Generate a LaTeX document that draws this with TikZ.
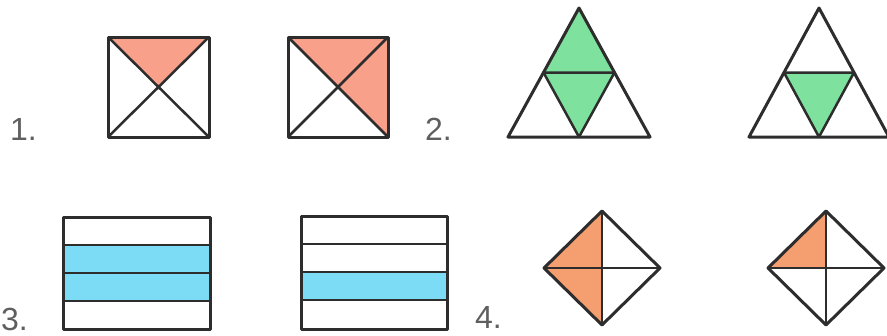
\documentclass[tikz,border=0pt]{standalone}
\usepackage{fontspec}
\setmainfont{Liberation Sans}
\definecolor{salmon}{RGB}{249,160,138}
\definecolor{mint}{RGB}{126,226,158}
\definecolor{sky}{RGB}{125,220,245}
\definecolor{apricot}{RGB}{245,158,112}
\definecolor{linec}{RGB}{45,45,45}
\definecolor{labc}{RGB}{95,95,95}
\begin{document}
\begin{tikzpicture}[x=1pt,y=-1pt,line join=round,
  shp/.style={draw=linec,line width=3pt},
  thin/.style={draw=linec,line width=2.5pt},
  lbl/.style={text=labc,font=\fontsize{32}{32}\selectfont,anchor=base west,inner sep=0pt}]
\useasboundingbox (0,0) rectangle (887,335);
% labels
\node[lbl] (l1) at (10,140) {1.};
\node[lbl] (l2) at (425,140) {2.};
\node[lbl] (l3) at (1,330) {3.};
\node[lbl] (l4) at (475,328) {4.};
% squares
\fill[salmon] (108,37) -- (209,37) -- (158.5,87) -- cycle;
\draw[thin] (108,37) -- (209,137) (209,37) -- (108,137);
\draw[shp] (108,37) rectangle (209,137);
\fill[salmon] (288,37) -- (388,37) -- (388,137) -- (338,87) -- cycle;
\draw[thin] (288,37) -- (388,137) (388,37) -- (288,137);
\draw[shp] (288,37) rectangle (388,137);
% triangles
\fill[mint] (579,8) -- (614.5,72.5) -- (579,137) -- (543.5,72.5) -- cycle;
\draw[thin] (543.5,72.5) -- (614.5,72.5) -- (579,137) -- cycle;
\draw[shp] (579,8) -- (650,137) -- (508,137) -- cycle;
\fill[mint] (784,72.5) -- (854,72.5) -- (819,137) -- cycle;
\draw[thin] (784,72.5) -- (854,72.5) -- (819,137) -- cycle;
\draw[shp] (819,8) -- (889,137) -- (749,137) -- cycle;
% rectangles
\fill[sky] (63,245) rectangle (210,301);
\draw[thin] (63,245) -- (210,245) (63,273) -- (210,273) (63,301) -- (210,301);
\draw[shp] (63,217) rectangle (210,329);
\fill[sky] (301,272) rectangle (447,300);
\draw[thin] (301,244) -- (447,244) (301,272) -- (447,272) (301,300) -- (447,300);
\draw[shp] (301,216) rectangle (447,329);
% diamonds
\fill[apricot] (602,211) -- (544,268) -- (602,325) -- cycle;
\draw[thin] (602,211) -- (602,325) (544,268) -- (660,268);
\draw[shp] (602,211) -- (660,268) -- (602,325) -- (544,268) -- cycle;
\fill[apricot] (826,211) -- (768,268) -- (826,268) -- cycle;
\draw[thin] (826,211) -- (826,325) (768,268) -- (884,268);
\draw[shp] (826,211) -- (884,268) -- (826,325) -- (768,268) -- cycle;
\end{tikzpicture}
\end{document}
